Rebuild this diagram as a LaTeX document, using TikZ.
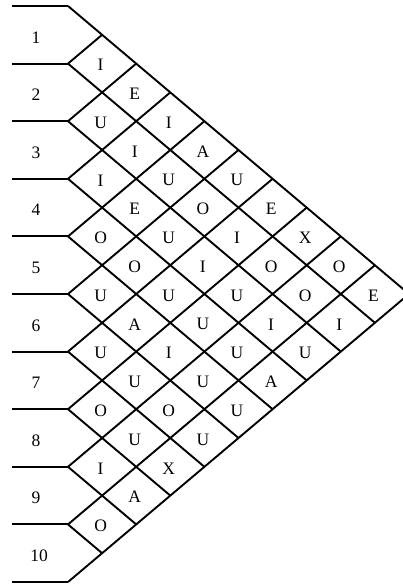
\documentclass[tikz,border=0pt]{standalone}
\usepackage{fontspec}
\setmainfont{Liberation Serif}
\usetikzlibrary{calc}
\tikzset{
  gridline/.style={line width=1.9pt},
  cellletter/.style={font=\fontsize{17.5}{20}\selectfont, inner sep=0pt},
  rownum/.style={font=\fontsize{17.5}{20}\selectfont, inner sep=0pt}
}
\begin{document}
\begin{tikzpicture}[x=1pt,y=-1pt]
\useasboundingbox (0,0) rectangle (403,586);
\begin{scope}
\clip (0,0) rectangle (403,586);
% lattice vertices
\foreach \m in {0,...,10}{
  \foreach \n in {0,...,20}{
    \coordinate (v-\m-\n) at ({68+34.1*\m},{6+28.8*\n});
  }
}
% left ends of horizontal lines
\foreach \n in {0,2,...,20}{
  \coordinate (h-\n) at (12,{6+28.8*\n});
  \draw[gridline] (h-\n) -- (v-0-\n);
}
% down-right lines
\foreach \c in {0,2,...,18}{
  \pgfmathtruncatemacro{\me}{(20-\c)/2}
  \pgfmathtruncatemacro{\ne}{(20+\c)/2}
  \draw[gridline] (v-0-\c) -- (v-\me-\ne);
}
% up-right lines
\foreach \s in {2,4,...,20}{
  \pgfmathtruncatemacro{\me}{\s/2}
  \draw[gridline] (v-0-\s) -- (v-\me-\me);
}
% cell letters
\foreach \m/\n/\t in {
  1/2/I,1/4/U,1/6/I,1/8/O,1/10/U,1/12/U,1/14/O,1/16/I,1/18/O,
  2/3/E,2/5/I,2/7/E,2/9/O,2/11/A,2/13/U,2/15/U,2/17/A,
  3/4/I,3/6/U,3/8/U,3/10/U,3/12/I,3/14/O,3/16/X,
  4/5/A,4/7/O,4/9/I,4/11/U,4/13/U,4/15/U,
  5/6/U,5/8/I,5/10/U,5/12/U,5/14/U,
  6/7/E,6/9/O,6/11/I,6/13/A,
  7/8/X,7/10/O,7/12/U,
  8/9/O,8/11/I,
  9/10/E}{
  \node[cellletter] (c-\m-\n) at ($(v-\m-\n)+(-1.5,1.5)$) {\t};
}
% row numbers
\foreach \k in {1,...,10}{
  \node[rownum] (r-\k) at ({\k==10 ? 39 : 36},{6+28.8*(2*\k-1)+2.5}) {\k};
}
\end{scope}
\end{tikzpicture}
\end{document}
